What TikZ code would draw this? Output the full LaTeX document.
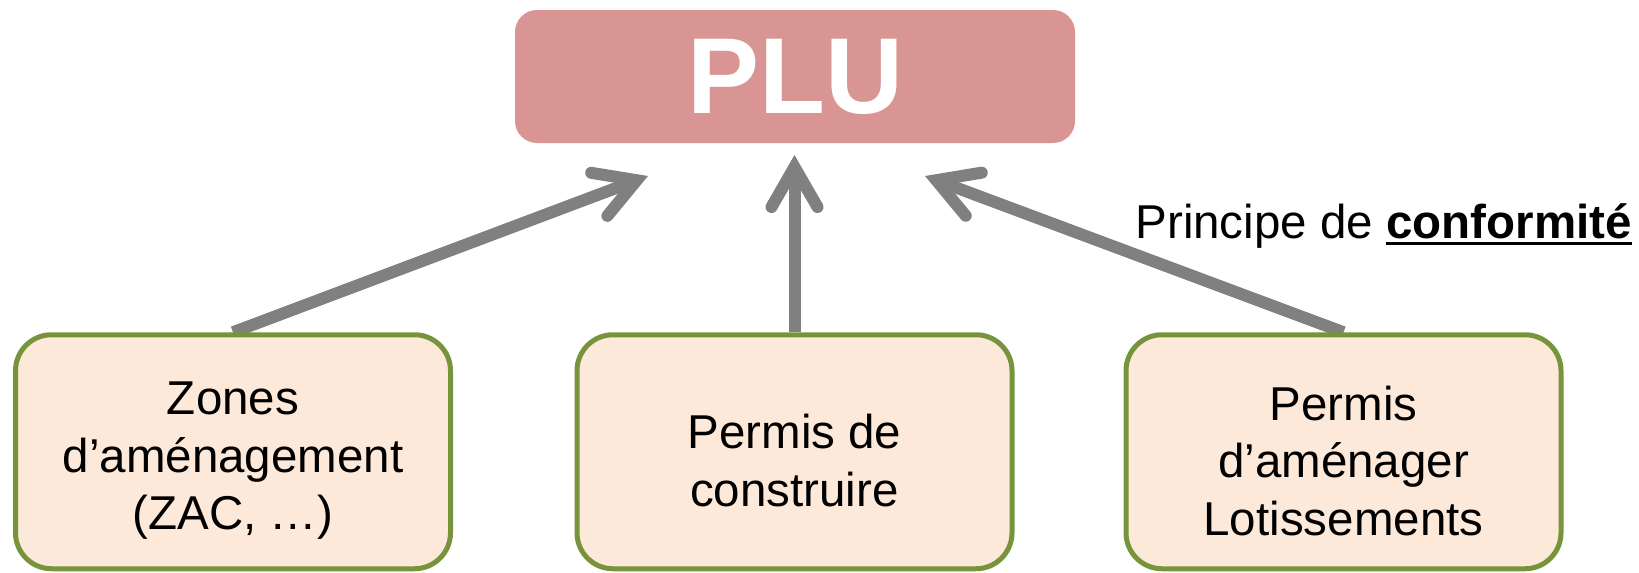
\documentclass[tikz,border=0pt]{standalone}
\usepackage{fontspec}
\setmainfont{Liberation Sans}
\usetikzlibrary{arrows.meta,backgrounds}
\definecolor{plufill}{HTML}{D99594}
\definecolor{boxfill}{HTML}{FDE9D9}
\definecolor{boxline}{HTML}{77933C}
\definecolor{arrgray}{HTML}{808080}
\newcommand\ulbold[1]{\setbox0\hbox{#1}\rlap{\rule[-7pt]{\wd0}{3.5pt}}\box0}
\begin{document}
\begin{tikzpicture}[x=1pt,y=-1pt,
  plubox/.style={fill=plufill, rounded corners=22pt, minimum width=560pt, minimum height=133pt, inner sep=0pt, text=white, font=\fontsize{108}{120}\selectfont\bfseries},
  lowbox/.style={draw=boxline, line width=5pt, fill=boxfill, rounded corners=36pt, minimum width=435pt, minimum height=234pt, inner sep=0pt},
  boxtext/.style={align=center, inner sep=0pt, yshift=-9pt, font=\fontsize{47.5}{57.5}\selectfont},
  conn/.style={draw=arrgray, line width=12pt, -{Straight Barb[length=40pt,width=46pt,line cap=round,line join=miter]}},
  labeltext/.style={font=\fontsize{47.5}{57.5}\selectfont, inner sep=0pt}
]
\useasboundingbox (0,0) rectangle (1639,573);
\node[plubox] (plu) at (795,76.5) {PLU};
\node[lowbox] (zac) at (233,451.75) {};
\node[lowbox] (pc) at (794.5,451.75) {};
\node[lowbox] (pa) at (1343.5,451.75) {};
\node[boxtext] (zactext) at (zac) {Zones\\d’aménagement\\(ZAC, …)};
\node[boxtext] (pctext) at (pc) {Permis de\\construire};
\node[boxtext] (patext) at (pa) {Permis\\d’aménager\\Lotissements};
\node[labeltext, anchor=base east] (conf) at (1632,238) {Principe de \ulbold{\bfseries conformité}};
\coordinate (t1) at (648,176);
\coordinate (t2) at (794.5,155);
\coordinate (t3) at (925,176);
\begin{scope}[on background layer]
\draw[conn] (zac.north) -- (t1);
\draw[conn] (pc.north) -- (t2);
\draw[conn] (pa.north) -- (t3);
\end{scope}
\end{tikzpicture}
\end{document}
